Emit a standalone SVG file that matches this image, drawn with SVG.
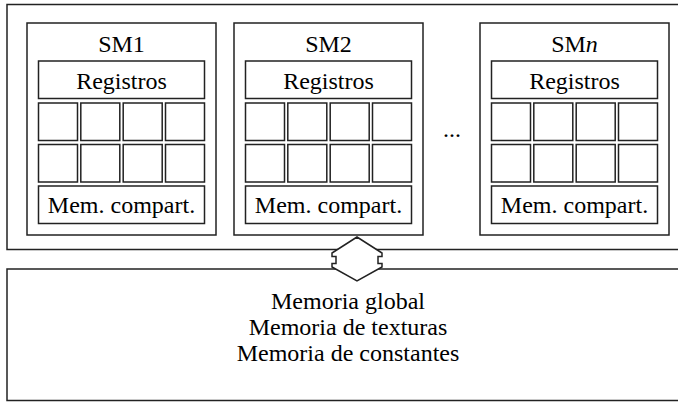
<svg xmlns="http://www.w3.org/2000/svg" width="678" height="402" viewBox="0 0 678 402">
<style>
.b{fill:#fff;stroke:#222;stroke-width:1.5}
text{font-family:'Liberation Serif','Times New Roman',Times,'DejaVu Serif',serif;font-size:24px;fill:#000;text-anchor:middle}
</style>
<defs>
<g id="sm">
<rect class="b" x="0" y="0" width="189" height="212"/>
<rect class="b" x="11.5" y="38" width="166" height="37.5"/>
<rect class="b" x="11.5" y="80" width="39" height="37.5"/>
<rect class="b" x="53.8" y="80" width="39" height="37.5"/>
<rect class="b" x="96.2" y="80" width="39" height="37.5"/>
<rect class="b" x="138.5" y="80" width="39" height="37.5"/>
<rect class="b" x="11.5" y="121.5" width="39" height="37.5"/>
<rect class="b" x="53.8" y="121.5" width="39" height="37.5"/>
<rect class="b" x="96.2" y="121.5" width="39" height="37.5"/>
<rect class="b" x="138.5" y="121.5" width="39" height="37.5"/>
<rect class="b" x="11.5" y="163" width="166" height="37.5"/>
<text x="94.5" y="65.5" font-family="Liberation Serif, serif">Registros</text>
<text x="94.5" y="190" font-family="Liberation Serif, serif">Mem. compart.</text>
</g>
</defs>
<g id="procesadores">
<rect class="b" x="7" y="4.5" width="680" height="245"/>
</g>
<g id="memoria">
<rect class="b" x="7" y="269" width="680" height="131.5"/>
<text x="348" y="309" font-family="Liberation Serif, serif">Memoria global</text>
<text x="348" y="335" font-family="Liberation Serif, serif">Memoria de texturas</text>
<text x="348" y="361" font-family="Liberation Serif, serif">Memoria de constantes</text>
</g>
<g id="sm1" transform="translate(27,23)">
<use href="#sm"/>
<text x="94.5" y="28.5" font-family="Liberation Serif, serif">SM1</text>
</g>
<g id="sm2" transform="translate(234,23)">
<use href="#sm"/>
<text x="94.5" y="28.5" font-family="Liberation Serif, serif">SM2</text>
</g>
<g id="smn" transform="translate(480,23)">
<use href="#sm"/>
<text x="94.5" y="28.5" font-family="Liberation Serif, serif">SM<tspan font-style="italic">n</tspan></text>
</g>
<text x="452" y="137" font-family="Liberation Serif, serif">...</text>
<g id="connectors">
<path class="b" d="M357,237 L332,253 L332,256.5 L336,256.5 L336,263.5 L332,263.5 L332,267 L357,281 L382,267 L382,263.5 L378,263.5 L378,256.5 L382,256.5 L382,253 Z"/>
</g>
</svg>
